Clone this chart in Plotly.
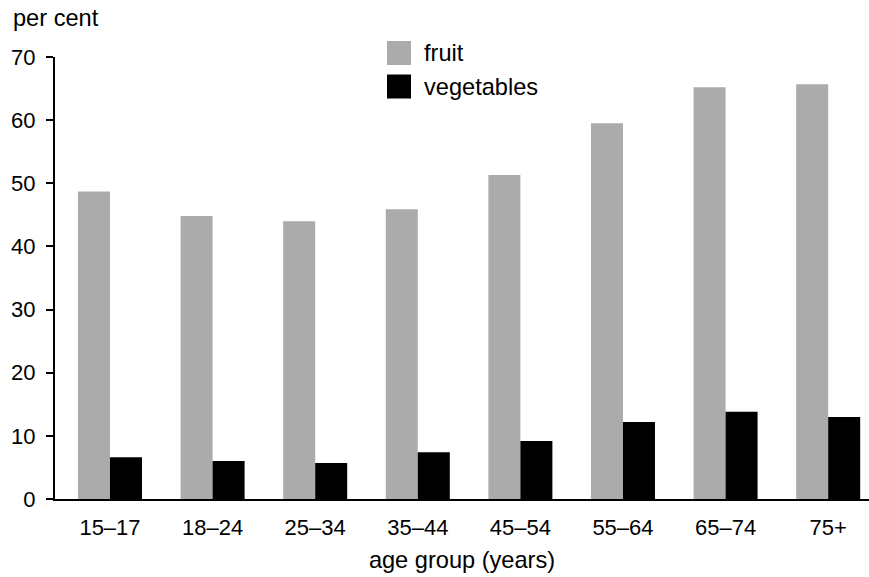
import plotly.graph_objects as go

categories = ["15–17", "18–24", "25–34", "35–44", "45–54", "55–64", "65–74", "75+"]
fruit = [48.7, 44.8, 44.0, 45.9, 51.3, 59.5, 65.2, 65.7]
vegetables = [6.6, 6.0, 5.7, 7.4, 9.2, 12.2, 13.8, 13.0]
series_names = ["fruit", "vegetables"]
series_colors = ["#ababab", "#000000"]
y_ticks = [0, 10, 20, 30, 40, 50, 60, 70]

FONT = "Liberation Sans, Arial, Helvetica, sans-serif"
TITLE_SIZE = 23.6

fig = go.Figure()
for name, vals, col in zip(series_names, [fruit, vegetables], series_colors):
    fig.add_trace(go.Bar(x=categories, y=vals, name=name, marker=dict(color=col, line=dict(width=0)),
                         showlegend=False, hoverinfo="skip"))

fig.update_layout(
    width=869, height=577,
    margin=dict(l=55, r=0, t=57, b=78),
    paper_bgcolor="white", plot_bgcolor="white",
    barmode="group", bargap=0.376, bargroupgap=0,
    font=dict(family=FONT, size=22, color="black"),
    xaxis=dict(
        type="category", range=[-0.536, 7.398],
        showline=True, linecolor="black", linewidth=2,
        ticks="", showgrid=False, zeroline=False,
        tickfont=dict(size=22), ticklabelstandoff=8,
        title=dict(text="age group (years)", font=dict(size=TITLE_SIZE), standoff=12),
    ),
    yaxis=dict(
        range=[0, 70], tickvals=y_ticks,
        showline=True, linecolor="black", linewidth=2,
        ticks="outside", ticklen=7, tickwidth=2, tickcolor="black",
        showgrid=False, zeroline=False,
        tickfont=dict(size=22), ticklabelstandoff=6,
    ),
)

# per cent label
fig.add_annotation(text="per cent", xref="paper", yref="paper", x=-44/814, y=1 + 39/442,
                   xanchor="left", yanchor="middle", showarrow=False, font=dict(size=TITLE_SIZE))

# manual legend
leg_x0 = (387 - 55) / 814
leg_x1 = (411 - 55) / 814
for i, (name, col) in enumerate(zip(series_names, series_colors)):
    ytop = 41 + i * 33.5
    y0 = 1 - (ytop + 24 - 57) / 442
    y1 = 1 - (ytop - 57) / 442
    fig.add_shape(type="rect", xref="paper", yref="paper", x0=leg_x0, x1=leg_x1, y0=y0, y1=y1,
                  fillcolor=col, line=dict(width=0))
    fig.add_annotation(text=name, xref="paper", yref="paper", x=(422 - 55) / 814, y=(y0 + y1) / 2,
                       xanchor="left", yanchor="middle", showarrow=False, font=dict(size=TITLE_SIZE))

fig.write_html("out.html", config={"displayModeBar": False},
               post_script="document.body.style.margin='0';document.body.style.overflow='hidden';")
